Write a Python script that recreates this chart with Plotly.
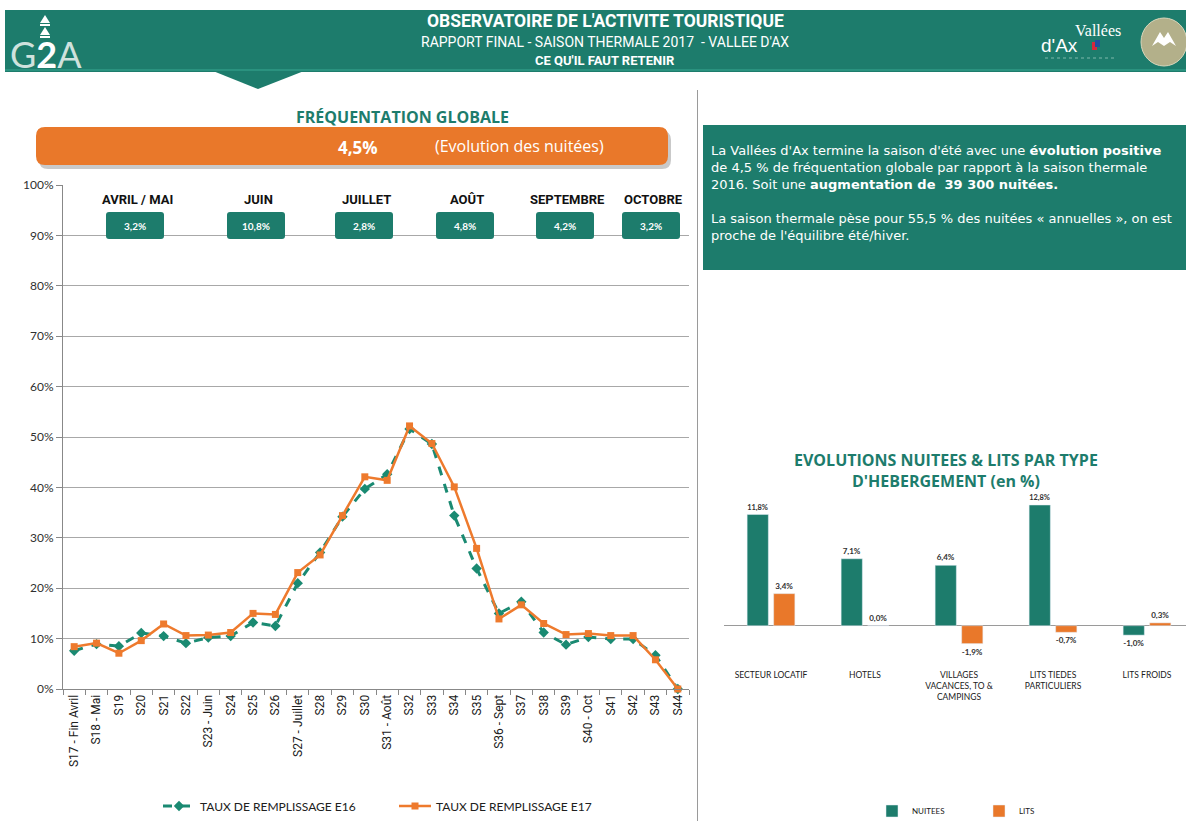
import plotly.graph_objects as go

# ---------------- data ----------------
weeks = ["S17 - Fin Avril", "S18 - Mai", "S19", "S20", "S21", "S22", "S23 - Juin", "S24", "S25", "S26",
         "S27 - Juillet", "S28", "S29", "S30", "S31 - Août", "S32", "S33", "S34", "S35", "S36 - Sept",
         "S37", "S38", "S39", "S40 - Oct", "S41", "S42", "S43", "S44"]
taux_e16 = [7.6, 8.9, 8.5, 11.1, 10.5, 9.1, 10.2, 10.5, 13.2, 12.5,
            21.0, 27.1, 34.2, 39.7, 42.6, 51.6, 48.6, 34.4, 23.9, 15.0,
            17.3, 11.2, 8.8, 10.3, 9.9, 9.9, 6.7, 0.0]
taux_e17 = [8.4, 9.1, 7.1, 9.6, 12.9, 10.6, 10.7, 11.2, 15.0, 14.8,
            23.1, 26.6, 34.4, 42.1, 41.4, 52.2, 48.7, 40.1, 27.9, 13.9,
            16.7, 13.0, 10.8, 11.0, 10.6, 10.6, 5.8, 0.0]
y_ticks = [0, 10, 20, 30, 40, 50, 60, 70, 80, 90, 100]
y_ticklabels = [f"{v}%" for v in y_ticks]

months = ["AVRIL / MAI", "JUIN", "JUILLET", "AOÛT", "SEPTEMBRE", "OCTOBRE"]
month_evol = ["3,2%", "10,8%", "2,8%", "4,8%", "4,2%", "3,2%"]

hebergement = ["SECTEUR LOCATIF", "HOTELS", "VILLAGES<br>VACANCES, TO &<br>CAMPINGS",
               "LITS TIEDES<br>PARTICULIERS", "LITS FROIDS"]
evol_nuitees = [11.8, 7.1, 6.4, 12.8, -1.0]
evol_lits = [3.4, 0.0, -1.9, -0.7, 0.3]

# ---------------- styling ----------------
W, H = 1186, 821
TEAL = "#1d7c6c"
ORANGE = "#e9782a"
LINE_ORANGE = "#ee7a2d"
LINE_TEAL = "#1a8a72"
GRID = "#a8a8a8"
NARROW = "Liberation Sans Narrow, Roboto"


def X(p):
    return p / W


def Y(p):
    return 1 - p / H


def rrect(x0, y0, x1, y1, r):
    return (f"M {X(x0 + r)},{Y(y0)} L {X(x1 - r)},{Y(y0)} Q {X(x1)},{Y(y0)} {X(x1)},{Y(y0 + r)} "
            f"L {X(x1)},{Y(y1 - r)} Q {X(x1)},{Y(y1)} {X(x1 - r)},{Y(y1)} "
            f"L {X(x0 + r)},{Y(y1)} Q {X(x0)},{Y(y1)} {X(x0)},{Y(y1 - r)} "
            f"L {X(x0)},{Y(y0 + r)} Q {X(x0)},{Y(y0)} {X(x0 + r)},{Y(y0)} Z")


def fmt(v):
    return "<b>" + f"{v:.1f}".replace(".", ",") + "%</b>"


def note(px, py, text, size, color, family, xanchor="center", yanchor="middle", align="center"):
    return dict(x=X(px), y=Y(py), xref="paper", yref="paper", showarrow=False, text=text,
                xanchor=xanchor, yanchor=yanchor, align=align,
                font=dict(size=size, color=color, family=family))


fig = go.Figure()

# ---- line chart ----
fig.add_trace(go.Scatter(
    x=weeks, y=taux_e16, name="TAUX DE REMPLISSAGE E16", mode="lines+markers",
    line=dict(color=LINE_TEAL, width=3, dash="dash"),
    marker=dict(symbol="diamond", size=8, color=LINE_TEAL),
    xaxis="x", yaxis="y", legend="legend", cliponaxis=False))
fig.add_trace(go.Scatter(
    x=weeks, y=taux_e17, name="TAUX DE REMPLISSAGE E17", mode="lines+markers",
    line=dict(color=LINE_ORANGE, width=2.5),
    marker=dict(symbol="square", size=7, color=LINE_ORANGE),
    xaxis="x", yaxis="y", legend="legend", cliponaxis=False))

# ---- bar chart ----
fig.add_trace(go.Bar(
    x=hebergement, y=evol_nuitees, name="NUITEES", marker_color=TEAL,
    text=[fmt(v) for v in evol_nuitees], textposition="outside",
    textfont=dict(size=8, color="#303030", family="Lato"),
    xaxis="x2", yaxis="y2", legend="legend2", cliponaxis=False))
fig.add_trace(go.Bar(
    x=hebergement, y=evol_lits, name="LITS", marker_color=ORANGE,
    text=[fmt(v) for v in evol_lits], textposition="outside",
    textfont=dict(size=8, color="#303030", family="Lato"),
    xaxis="x2", yaxis="y2", legend="legend2", cliponaxis=False))

shapes = []
ann = []

# header band
shapes.append(dict(type="rect", xref="paper", yref="paper", x0=X(5), x1=X(W), y0=Y(72), y1=Y(10),
                   fillcolor=TEAL, line=dict(width=0), layer="above"))
shapes.append(dict(type="line", xref="paper", yref="paper", x0=X(5), x1=X(W), y0=Y(70), y1=Y(70),
                   line=dict(color="#2f9a86", width=1.5), layer="above"))
# pointer triangle
shapes.append(dict(type="path", xref="paper", yref="paper",
                   path=f"M {X(213)},{Y(71)} L {X(304)},{Y(71)} L {X(258)},{Y(89)} Z",
                   fillcolor=TEAL, line=dict(width=0), layer="above"))
# G2A logo arrows
for top in (15, 27):
    shapes.append(dict(type="path", xref="paper", yref="paper",
                       path=f"M {X(40)},{Y(top + 8)} L {X(50)},{Y(top + 8)} L {X(45)},{Y(top)} Z",
                       fillcolor="white", line=dict(width=0), layer="above"))
    shapes.append(dict(type="rect", xref="paper", yref="paper", x0=X(40), x1=X(50),
                       y0=Y(top + 11), y1=Y(top + 9), fillcolor="white", line=dict(width=0), layer="above"))
ann.append(note(8, 54, "<span style='color:#cfe2dd'>G</span><b>2</b><span style='color:#cfe2dd'>A</span>",
                36, "white", "DejaVu Sans ExtraLight, Lato", xanchor="left"))
# right logos
ann.append(note(1098, 30, "Vallées", 16, "white", "Liberation Serif"))
ann.append(note(1059, 46, "d'Ax", 19, "white", "Liberation Sans"))
shapes.append(dict(type="rect", xref="paper", yref="paper", x0=X(1092), x1=X(1097), y0=Y(50), y1=Y(42),
                   fillcolor="#d7263d", line=dict(width=0), layer="above"))
shapes.append(dict(type="rect", xref="paper", yref="paper", x0=X(1095), x1=X(1100), y0=Y(47), y1=Y(40),
                   fillcolor="#1f4fa0", line=dict(width=0), layer="above"))
shapes.append(dict(type="line", xref="paper", yref="paper", x0=X(1045), x1=X(1115), y0=Y(58), y1=Y(58),
                   line=dict(color="#7fb8ab", width=1, dash="dot"), layer="above"))
shapes.append(dict(type="circle", xref="paper", yref="paper", x0=X(1141), x1=X(1187), y0=Y(66), y1=Y(18),
                   fillcolor="#b3b08a", line=dict(color="#d8d6bb", width=1), layer="above"))
shapes.append(dict(type="path", xref="paper", yref="paper",
                   path=(f"M {X(1152)},{Y(46)} L {X(1160)},{Y(32)} L {X(1164)},{Y(38)} L {X(1168)},{Y(32)} "
                         f"L {X(1176)},{Y(46)} L {X(1170)},{Y(42)} L {X(1164)},{Y(46)} L {X(1158)},{Y(42)} Z"),
                   fillcolor="white", line=dict(width=0), layer="above"))

ann.append(note(605, 21, "<b>OBSERVATOIRE DE L'ACTIVITE TOURISTIQUE</b>", 17.5, "white", NARROW))
ann.append(note(605, 42, "RAPPORT FINAL - SAISON THERMALE 2017  - VALLEE D'AX", 14, "white", NARROW))
ann.append(note(605, 60, "<b>CE QU'IL FAUT RETENIR</b>", 13, "white", NARROW))

# divider
shapes.append(dict(type="line", xref="paper", yref="paper", x0=X(697.5), x1=X(697.5), y0=Y(90), y1=Y(H),
                   line=dict(color="#9a9a9a", width=1), layer="above"))

# Fréquentation globale
ann.append(note(402, 117, "<b>FRÉQUENTATION GLOBALE</b>", 16, TEAL, "Open Sans"))
shapes.append(dict(type="path", xref="paper", yref="paper", path=rrect(39, 131, 671, 169, 9),
                   fillcolor="#c9c9c9", line=dict(width=0), layer="above"))
shapes.append(dict(type="path", xref="paper", yref="paper", path=rrect(36, 127, 668, 165, 9),
                   fillcolor=ORANGE, line=dict(width=0), layer="above"))
ann.append(note(358, 147, "<b>4,5%</b>", 17, "white", "Open Sans"))
ann.append(note(519, 146, "(Evolution des nuitées)", 16, "white", "Open Sans"))

# month boxes
month_cx = [135, 256, 364, 465, 565, 651]
for name, val, cx in zip(months, month_evol, month_cx):
    ann.append(note(cx + 2, 199, f"<b>{name}</b>", 13, "#111111", NARROW))
    shapes.append(dict(type="path", xref="paper", yref="paper", path=rrect(cx - 29, 212, cx + 29, 239, 3),
                       fillcolor=TEAL, line=dict(width=0), layer="above"))
    ann.append(note(cx, 226, f"<b>{val}</b>", 10, "white", "Lato"))

# text box
shapes.append(dict(type="rect", xref="paper", yref="paper", x0=X(703), x1=X(W), y0=Y(270), y1=Y(125),
                   fillcolor=TEAL, line=dict(width=0), layer="above"))
ann.append(note(709, 141,
                ("La Vallées d'Ax termine la saison d'été avec une <b>évolution positive</b><br>"
                 "de 4,5 % de fréquentation globale par rapport à la saison thermale<br>"
                 "2016. Soit une <b>augmentation de  39 300 nuitées.</b><br><br>"
                 "La saison thermale pèse pour 55,5 % des nuitées « annuelles », on est<br>"
                 "proche de l'équilibre été/hiver."),
                13, "white", "DejaVu Sans", xanchor="left", yanchor="top", align="left"))

# bar chart title
ann.append(note(946, 471, "<b>EVOLUTIONS NUITEES & LITS PAR TYPE<br>D'HEBERGEMENT (en %)</b>",
                16, TEAL, "Open Sans"))

# domains (pixels)
lx0, lx1, ly_bot, ly_top = 63, 689, 689, 185
bx0, bx1, by_top, by_bot = 724, W, 490, 668
b_zero = 625.7
b_per = 9.43
b_rng = [-(by_bot - b_zero) / b_per, (b_zero - by_top) / b_per]

fig.update_layout(
    width=W, height=H, margin=dict(l=0, r=0, t=0, b=0, autoexpand=False),
    paper_bgcolor="white", plot_bgcolor="white",
    shapes=shapes, annotations=ann,
    barmode="group", bargap=0.436, bargroupgap=0.2,
    xaxis=dict(domain=[X(lx0), X(lx1)], anchor="y", type="category", tickangle=-90, automargin=False,
               range=[-0.5, len(weeks) - 0.5],
               ticks="outside", tickson="boundaries", ticklen=5, tickcolor="#888888",
               showline=True, linecolor="#888888", showgrid=False,
               tickfont=dict(size=12, color="#202020", family=NARROW)),
    yaxis=dict(domain=[Y(ly_bot), Y(ly_top)], anchor="x", range=[0, 100], automargin=False,
               tickmode="array", tickvals=y_ticks, ticktext=y_ticklabels,
               ticks="outside", ticklen=6, tickcolor="#888888",
               showline=True, linecolor="#888888", gridcolor=GRID, gridwidth=1, zeroline=False,
               tickfont=dict(size=12, color="#303030", family="Lato")),
    xaxis2=dict(domain=[X(bx0), X(bx1)], anchor="y2", type="category", range=[-0.5, 4.5 - 8 / 94],
                showline=False, ticks="", showgrid=False, automargin=False,
                tickfont=dict(size=8.5, color="#202020", family="Lato")),
    yaxis2=dict(domain=[Y(by_bot), Y(by_top)], anchor="x2", range=b_rng, showticklabels=False,
                automargin=False,
                showgrid=False, zeroline=True, zerolinecolor="#9a9a9a", zerolinewidth=1, showline=False),
    legend=dict(orientation="h", x=X(158), xanchor="left", y=Y(806), yanchor="middle",
                font=dict(size=12, color="#202020", family="Lato"), itemwidth=32,
                entrywidth=189, bgcolor="rgba(0,0,0,0)"),
    legend2=dict(orientation="h", x=X(872), xanchor="left", y=Y(811), yanchor="middle",
                 font=dict(size=8, color="#202020", family="Lato"),
                 bgcolor="rgba(0,0,0,0)", itemwidth=30, entrywidth=62),
    showlegend=True,
)

fig.write_html("out.html", post_script="document.body.style.margin='0px';",
               config={"displayModeBar": False})
